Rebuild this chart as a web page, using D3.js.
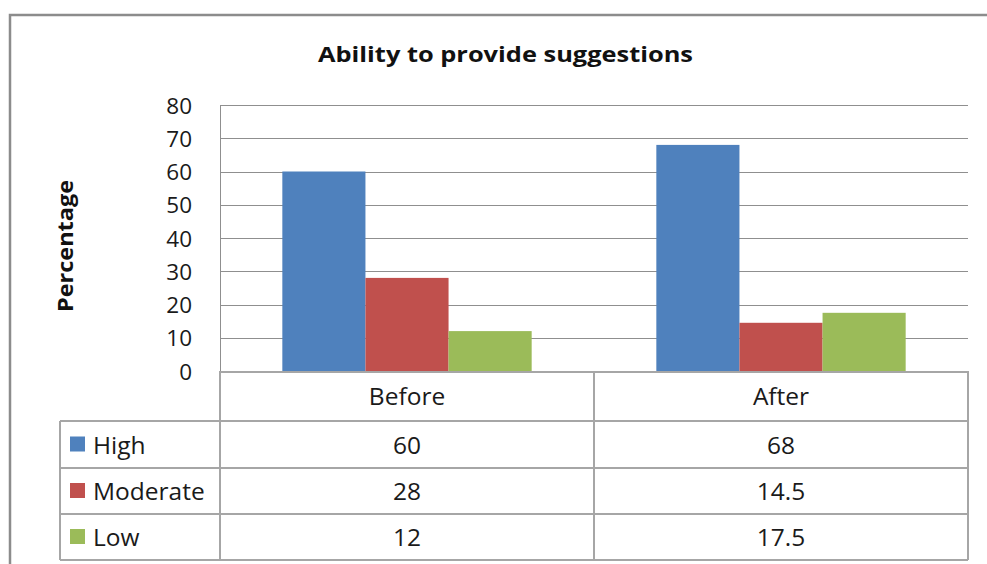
<!DOCTYPE html>
<html>
<head>
<meta charset="utf-8">
<script src="https://cdn.jsdelivr.net/npm/d3@7"></script>
<style>
  body { margin: 0; background: #fff; }
  svg { display: block; font-family: "Open Sans", "Noto Sans", sans-serif; }
</style>
</head>
<body>
<svg id="chart" width="987" height="564"></svg>
<script>
const title = "Ability to provide suggestions";
const yAxisTitle = "Percentage";
const categories = ["Before", "After"];
const seriesNames = ["High", "Moderate", "Low"];
const seriesColors = ["#4F81BD", "#C0504D", "#9BBB59"];
const highValues = [60, 68];
const moderateValues = [28, 14.5];
const lowValues = [12, 17.5];
const tableLabels = [["60", "68"], ["28", "14.5"], ["12", "17.5"]];
const yTicks = [0, 10, 20, 30, 40, 50, 60, 70, 80];

const series = [highValues, moderateValues, lowValues];

const svg = d3.select("#chart");
const W = 987, H = 564;
const FONT = "'Open Sans', sans-serif";
const textColor = "#1a1a1a";
const tableFont = 24.5;

// outer chart border
svg.append("rect").attr("x", 10).attr("y", 15).attr("width", W + 10).attr("height", H + 10)
  .attr("fill", "none").attr("stroke", "#8c8c8c").attr("stroke-width", 2.5);

const plot = { left: 220, right: 968, top: 105, bottom: 371 };

const x0 = d3.scaleBand().domain(categories).range([plot.left, plot.right]).paddingInner(0).paddingOuter(0);
const x1 = d3.scaleBand().domain(seriesNames).range([0, x0.bandwidth()]).paddingInner(0).paddingOuter(0.75);
const y = d3.scaleLinear().domain([0, 80]).range([plot.bottom, plot.top]);

// gridlines
svg.append("g").selectAll("line").data(yTicks).join("line")
  .attr("x1", plot.left).attr("x2", plot.right)
  .attr("y1", d => Math.round(y(d)) + 0.5).attr("y2", d => Math.round(y(d)) + 0.5)
  .attr("stroke", "#8f8f8f").attr("stroke-width", 1);

// left axis line
svg.append("line").attr("x1", plot.left + 0.5).attr("x2", plot.left + 0.5)
  .attr("y1", plot.top).attr("y2", plot.bottom)
  .attr("stroke", "#8f8f8f").attr("stroke-width", 1);

// y axis labels via d3 axis
const yAxis = d3.axisLeft(y).tickValues(yTicks).tickSize(0).tickPadding(28);
const yg = svg.append("g").attr("transform", `translate(${plot.left},0)`).call(yAxis);
yg.select(".domain").remove();
yg.attr("font-size", null).attr("font-family", null);
yg.selectAll("text").attr("font-size", 22.5).attr("fill", textColor).attr("font-family", FONT).attr("dy", "0.36em");

// bars
const groups = svg.append("g").selectAll("g").data(categories).join("g")
  .attr("transform", d => `translate(${x0(d)},0)`);
groups.selectAll("rect").data((c, ci) => seriesNames.map((s, si) => ({ s, si, v: series[si][ci] })))
  .join("rect")
  .attr("x", d => x1(d.s))
  .attr("width", x1.bandwidth())
  .attr("y", d => y(d.v))
  .attr("height", d => y(0) - y(d.v))
  .attr("fill", d => seriesColors[d.si]);

// title
svg.append("text").attr("x", 505.5).attr("y", 62).attr("text-anchor", "middle")
  .attr("font-size", 22).attr("font-weight", "bold").attr("fill", "#111")
  .attr("textLength", 375).attr("lengthAdjust", "spacingAndGlyphs")
  .text(title);

// y axis title
svg.append("text").attr("transform", "translate(73,246) rotate(-90)").attr("text-anchor", "middle")
  .attr("font-size", 21).attr("font-weight", "bold").attr("fill", "#111")
  .attr("textLength", 132).attr("lengthAdjust", "spacingAndGlyphs")
  .text(yAxisTitle);

// data table
const tableLeft = 60;
const rowEdges = [371, 421, 468, 514, 560];
const gridColor = "#a6a6a6";
const tg = svg.append("g").attr("stroke", gridColor).attr("stroke-width", 2).attr("fill", "none");
tg.append("line").attr("x1", plot.left).attr("x2", plot.right).attr("y1", rowEdges[0] + 1).attr("y2", rowEdges[0] + 1);
for (let i = 1; i < rowEdges.length; i++) {
  tg.append("line").attr("x1", tableLeft).attr("x2", plot.right).attr("y1", rowEdges[i]).attr("y2", rowEdges[i]);
}
tg.append("line").attr("x1", tableLeft).attr("x2", tableLeft).attr("y1", rowEdges[1]).attr("y2", rowEdges[4]);
[plot.left, x0("After"), plot.right].forEach(xv => {
  tg.append("line").attr("x1", xv).attr("x2", xv).attr("y1", rowEdges[0]).attr("y2", rowEdges[4]);
});

// category labels
svg.append("g").selectAll("text").data(categories).join("text")
  .attr("x", d => x0(d) + x0.bandwidth() / 2)
  .attr("y", (rowEdges[0] + rowEdges[1]) / 2 + 9)
  .attr("text-anchor", "middle").attr("font-size", tableFont).attr("fill", textColor)
  .text(d => d);

// rows
seriesNames.forEach((s, si) => {
  const cy = (rowEdges[si + 1] + rowEdges[si + 2]) / 2;
  svg.append("rect").attr("x", 70).attr("y", cy - 8).attr("width", 15).attr("height", 15)
    .attr("fill", seriesColors[si]);
  svg.append("text").attr("x", 93).attr("y", cy + 9).attr("font-size", tableFont).attr("fill", textColor).text(s);
  categories.forEach((c, ci) => {
    svg.append("text").attr("x", x0(c) + x0.bandwidth() / 2).attr("y", cy + 9)
      .attr("text-anchor", "middle").attr("font-size", tableFont).attr("fill", textColor)
      .text(tableLabels[si][ci]);
  });
});
</script>
</body>
</html>
